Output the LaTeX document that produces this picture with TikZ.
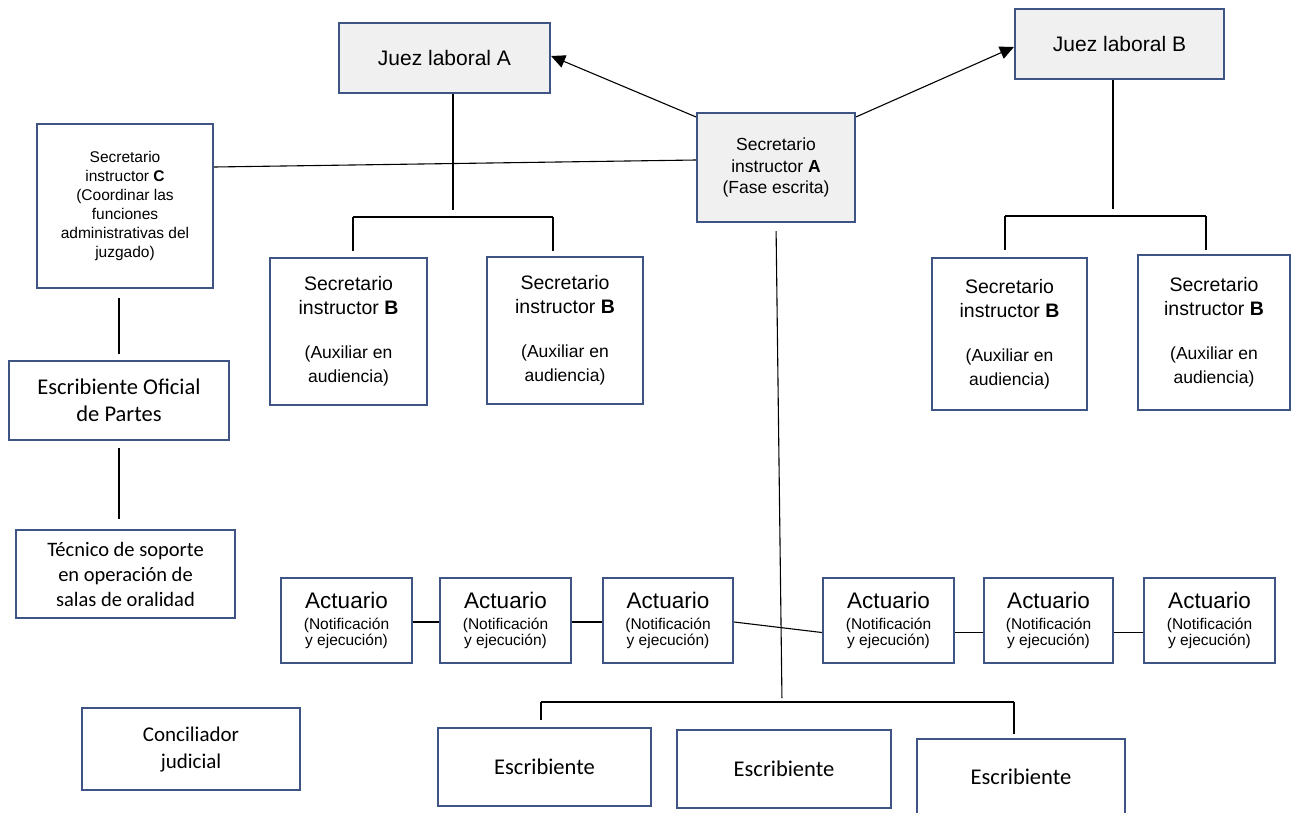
\documentclass[tikz,border=0pt]{standalone}
\usepackage{fontspec}
\setmainfont{Liberation Sans}
\newfontfamily\carlito{Carlito}
\usetikzlibrary{arrows.meta}
\definecolor{bordc}{RGB}{62,84,132}
\definecolor{grayfill}{RGB}{240,240,240}
\tikzset{
  box/.style={draw=bordc, line width=2.2pt, fill=white, inner sep=0pt, align=center, anchor=center},
  gbox/.style={box, fill=grayfill},
  conn/.style={draw=black, line width=1.1pt},
  arr/.style={conn, -{Triangle[length=14pt,width=13pt]}},
  juezfont/.style={font=\fontsize{21}{25}\selectfont},
  secbfont/.style={font=\fontsize{19.5}{24}\selectfont},
  actfont/.style={font=\fontsize{22.5}{24}\selectfont},
  calfont/.style={font=\carlito\fontsize{22.5}{27}\selectfont},
}
\newcommand{\smallsb}[1]{{\fontsize{17.5}{21}\selectfont #1}}
\newcommand{\actsub}[1]{{\fontsize{15.5}{16}\selectfont #1}}
\begin{document}
\begin{tikzpicture}[x=1pt,y=-1pt]
\useasboundingbox (0,0) rectangle (1293,812);

% top row
\node[gbox, juezfont, minimum width=211pt, minimum height=70pt] (juezA) at (444.5,58) {Juez laboral A};
\node[gbox, juezfont, minimum width=209pt, minimum height=70pt] (juezB) at (1119.5,44) {Juez laboral B};
\node[gbox, font=\fontsize{17.5}{21.5}\selectfont, minimum width=158pt, minimum height=109pt] (secA) at (776,167.5)
  {Secretario\\instructor \textbf{A}\\(Fase escrita)};
\node[box, font=\fontsize{15.5}{19}\selectfont, minimum width=176pt, minimum height=164pt] (secC) at (125,206)
  {Secretario\\instructor \textbf{C}\\(Coordinar las\\funciones\\administrativas del\\juzgado)};

% left column
\node[box, calfont, minimum width=220pt, minimum height=79pt] (escOf) at (119,400.5) {Escribiente Oficial\\de Partes};
\node[box, font=\carlito\fontsize{20.5}{25}\selectfont, minimum width=219pt, minimum height=88pt] (tec) at (125.5,574)
  {T\'ecnico de soporte\\en operaci\'on de\\salas de oralidad};
\node[box, font=\carlito\fontsize{21}{27}\selectfont, minimum width=218pt, minimum height=82pt] (conc) at (191,749)
  {Conciliador\\judicial};

% secretario B boxes
\node[box, secbfont, minimum width=157pt, minimum height=147pt] (sB1) at (348.5,331.5)
  {Secretario\\instructor \textbf{B}\\[20pt]\smallsb{(Auxiliar en}\\\smallsb{audiencia)}};
\node[box, secbfont, minimum width=156pt, minimum height=147pt] (sB2) at (565,330.5)
  {Secretario\\instructor \textbf{B}\\[20pt]\smallsb{(Auxiliar en}\\\smallsb{audiencia)}};
\node[box, secbfont, minimum width=155pt, minimum height=152pt] (sB3) at (1009.5,334)
  {Secretario\\instructor \textbf{B}\\[20pt]\smallsb{(Auxiliar en}\\\smallsb{audiencia)}};
\node[box, secbfont, minimum width=152pt, minimum height=155pt] (sB4) at (1214,332.5)
  {Secretario\\instructor \textbf{B}\\[20pt]\smallsb{(Auxiliar en}\\\smallsb{audiencia)}};

% actuarios
\node[box, actfont, minimum width=131pt, minimum height=85pt] (act1) at (346.5,620.5)
  {Actuario\\[-3pt]\actsub{(Notificaci\'on}\\[-8pt]\actsub{y ejecuci\'on)}};
\node[box, actfont, minimum width=131pt, minimum height=85pt] (act2) at (505.5,620.5)
  {Actuario\\[-3pt]\actsub{(Notificaci\'on}\\[-8pt]\actsub{y ejecuci\'on)}};
\node[box, actfont, minimum width=130pt, minimum height=85pt] (act3) at (668,620.5)
  {Actuario\\[-3pt]\actsub{(Notificaci\'on}\\[-8pt]\actsub{y ejecuci\'on)}};
\node[box, actfont, minimum width=131pt, minimum height=85pt] (act4) at (888.5,620.5)
  {Actuario\\[-3pt]\actsub{(Notificaci\'on}\\[-8pt]\actsub{y ejecuci\'on)}};
\node[box, actfont, minimum width=129pt, minimum height=85pt] (act5) at (1048.5,620.5)
  {Actuario\\[-3pt]\actsub{(Notificaci\'on}\\[-8pt]\actsub{y ejecuci\'on)}};
\node[box, actfont, minimum width=131pt, minimum height=85pt] (act6) at (1209.5,620.5)
  {Actuario\\[-3pt]\actsub{(Notificaci\'on}\\[-8pt]\actsub{y ejecuci\'on)}};

% escribientes
\node[box, calfont, minimum width=213pt, minimum height=78pt] (esc1) at (544.5,767) {Escribiente};
\node[box, calfont, minimum width=214pt, minimum height=78pt] (esc2) at (784,769) {Escribiente};
\node[box, calfont, minimum width=208pt, minimum height=75pt] (esc3) at (1021,776.5) {Escribiente};

% coordinates
\coordinate (jA) at (453,217);
\coordinate (jAl) at (353,217);
\coordinate (jAr) at (553,217);
\coordinate (jB) at (1113,216);
\coordinate (jBl) at (1005,216);
\coordinate (jBr) at (1206,216);
\coordinate (ej) at (782,702);
\coordinate (ejl) at (541,702);
\coordinate (ejr) at (1014,702);

% arrows
\draw[arr] ([yshift=-5pt]secA.north west) -- ([yshift=2pt]juezA.east);
\draw[arr] ([yshift=-5pt]secA.north east) -- ([yshift=-3pt]juezB.west);

% Juez A tree
\draw[conn, shorten >=7pt] (juezA.south -| jA) -- (jA);
\draw[conn] (jAl) -- (jAr);
\draw[conn, shorten >=6pt] (jAl) -- (sB1.north -| jAl);
\draw[conn, shorten >=5pt] (jAr) -- (sB2.north -| jAr);

% Juez B tree
\draw[conn, shorten >=7pt] (juezB.south -| jB) -- (jB);
\draw[conn] (jBl) -- (jBr);
\draw[conn, shorten >=7pt] (jBl) -- (sB3.north -| jBl);
\draw[conn, shorten >=4pt] (jBr) -- (sB4.north -| jBr);

% Sec C links
\draw[conn] ([yshift=39pt]secC.east) -- ([yshift=7.5pt]secA.west);
\draw[conn, shorten <=9pt, shorten >=6pt] (secC.south -| escOf.north) -- (escOf.north);
\draw[conn, shorten <=7pt, shorten >=10pt] (escOf.south) -- (tec.north -| escOf.south);

% Sec A down
\draw[conn, shorten <=8pt, shorten >=4pt] (secA.south) -- (ej);
\draw[conn] (ejl) -- (ejr);
\draw[conn, shorten >=7pt] (ejl) -- (esc1.north -| ejl);
\draw[conn, shorten >=4pt] (ejr) -- (esc3.north -| ejr);

% actuario chain
\draw[conn] ([yshift=-1.5pt]act1.east) -- ([yshift=-1.5pt]act2.west);
\draw[conn] ([yshift=-1.5pt]act2.east) -- ([yshift=-1.5pt]act3.west);
\draw[conn] ([yshift=-1.5pt]act3.east) -- ([yshift=-12pt]act4.west);
\draw[conn] ([yshift=-12pt]act4.east) -- ([yshift=-12pt]act5.west);
\draw[conn] ([yshift=-12pt]act5.east) -- ([yshift=-12pt]act6.west);
\end{tikzpicture}
\end{document}
